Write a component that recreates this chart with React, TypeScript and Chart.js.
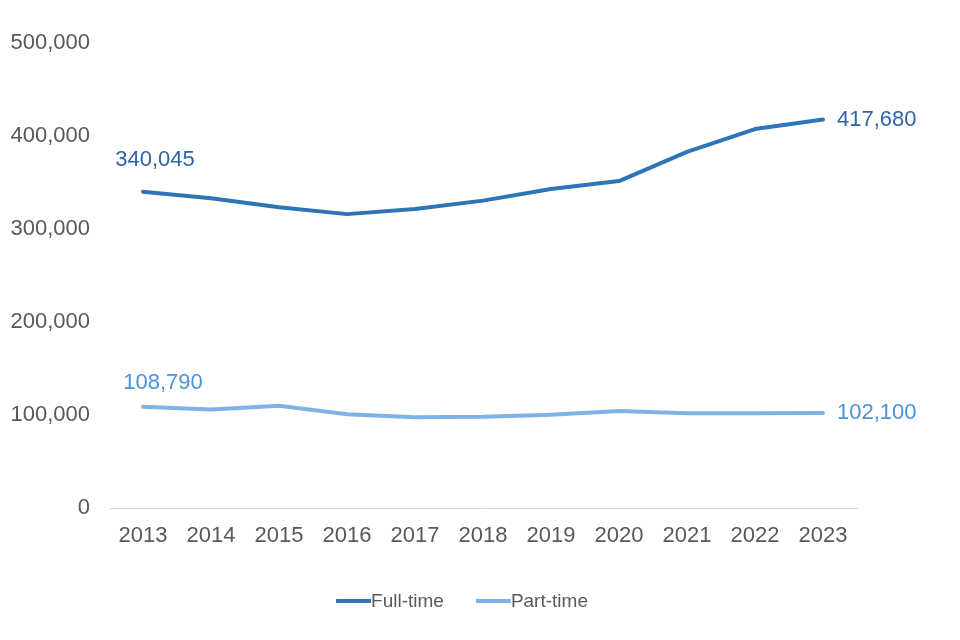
import React, { useEffect, useRef } from "react";
import { Chart, registerables } from "chart.js";

Chart.register(...registerables);

const years = ["2013", "2014", "2015", "2016", "2017", "2018", "2019", "2020", "2021", "2022", "2023"];
const fullTime = [340045, 333000, 323500, 316000, 321500, 330500, 343000, 351500, 383000, 407500, 417680];
const partTime = [108790, 106000, 110000, 100700, 97500, 98000, 100400, 104300, 101800, 101800, 102100];
const seriesNames = ["Full-time", "Part-time"];
const lineColors = ["#2E75B6", "#7FB2E7"];
const labelColors = ["#2F65A7", "#4A92DC"];
const firstLabelOffsets = [{ dx: 12, dy: -32 }, { dx: 20, dy: -24 }];

const FONT = "'Liberation Sans', Arial, sans-serif";
const fmt = (v: number) => v.toLocaleString("en-US");

const endLabels = {
  id: "endLabels",
  afterDatasetsDraw(chart: any) {
    const ctx = chart.ctx;
    ctx.save();
    ctx.font = `22px ${FONT}`;
    chart.data.datasets.forEach((ds: any, i: number) => {
      const meta = chart.getDatasetMeta(i);
      const pts = meta.data;
      const first = pts[0];
      const last = pts[pts.length - 1];
      ctx.fillStyle = labelColors[i];
      ctx.textBaseline = "middle";
      ctx.textAlign = "center";
      const off = firstLabelOffsets[i];
      ctx.fillText(fmt(ds.data[0]), first.x + off.dx, first.y + off.dy);
      ctx.textAlign = "left";
      ctx.fillText(fmt(ds.data[ds.data.length - 1]), last.x + 14, last.y);
    });
    ctx.restore();
  },
};

const bottomLegend = {
  id: "bottomLegend",
  afterDraw(chart: any) {
    const ctx = chart.ctx;
    ctx.save();
    ctx.font = `19px ${FONT}`;
    const lineW = 35;
    const gap = 32;
    const widths = chart.data.datasets.map((d: any) => lineW + ctx.measureText(d.label).width);
    const total = widths.reduce((a: number, b: number) => a + b, 0) + gap * (widths.length - 1);
    let x = 462 - total / 2;
    const y = 601;
    chart.data.datasets.forEach((d: any, i: number) => {
      ctx.strokeStyle = d.borderColor;
      ctx.lineWidth = 4;
      ctx.lineCap = "butt";
      ctx.beginPath();
      ctx.moveTo(x, y);
      ctx.lineTo(x + lineW, y);
      ctx.stroke();
      ctx.fillStyle = "#595959";
      ctx.textAlign = "left";
      ctx.textBaseline = "middle";
      ctx.fillText(d.label, x + lineW, y + 1);
      x += widths[i] + gap;
    });
    ctx.restore();
  },
};

export default function App() {
  const ref = useRef<HTMLCanvasElement>(null);
  useEffect(() => {
    document.body.style.margin = "0";
    const chart = new Chart(ref.current!, {
      type: "line",
      data: {
        labels: years,
        datasets: [
          { label: seriesNames[0], data: fullTime, borderColor: lineColors[0], backgroundColor: lineColors[0] },
          { label: seriesNames[1], data: partTime, borderColor: lineColors[1], backgroundColor: lineColors[1] },
        ],
      },
      options: {
        animation: false,
        responsive: false,
        devicePixelRatio: 1,
        layout: { padding: { top: 43, right: 103, left: 0, bottom: 82 } },
        elements: {
          line: { borderWidth: 4, tension: 0, borderCapStyle: "round", borderJoinStyle: "round" },
          point: { radius: 0, hoverRadius: 0 },
        },
        plugins: { legend: { display: false }, tooltip: { enabled: false } },
        scales: {
          x: {
            offset: true,
            grid: { display: false, drawTicks: false },
            border: { display: true, color: "#D9D9D9", width: 1 },
            ticks: { color: "#595959", font: { family: FONT, size: 22 }, padding: 15, maxRotation: 0 },
            afterFit: (s: any) => { s.height = 50; },
          },
          y: {
            min: 0,
            max: 500000,
            grid: { display: false, drawTicks: false },
            border: { display: false },
            ticks: { stepSize: 100000, color: "#595959", font: { family: FONT, size: 22 }, padding: 19, callback: (v: any) => fmt(Number(v)) },
            afterFit: (s: any) => { s.width = 109; },
          },
        },
      },
      plugins: [endLabels, bottomLegend],
    });
    return () => chart.destroy();
  }, []);
  return (
    <div style={{ width: 960, height: 640, background: "#fff" }}>
      <canvas ref={ref} width={960} height={640} />
    </div>
  );
}
